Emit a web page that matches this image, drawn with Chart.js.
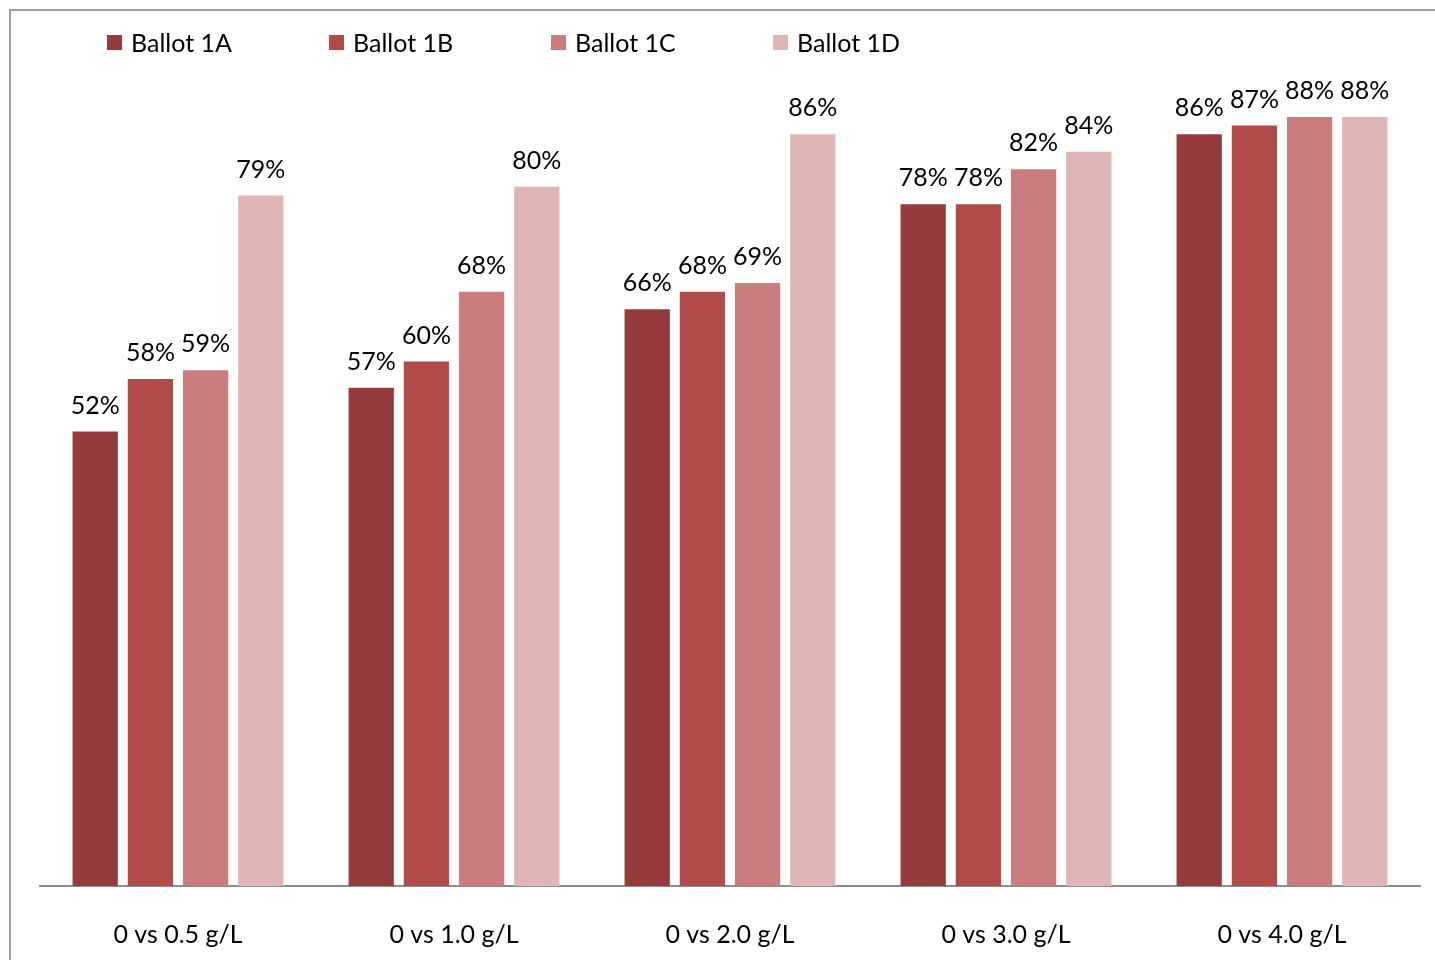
<!DOCTYPE html>
<html>
  <head>
    <title>Ballot comparison</title>
    <script src="https://cdn.jsdelivr.net/npm/chart.js@4/dist/chart.umd.min.js"></script>
    <style>
      html, body {
        margin: 0;
        padding: 0;
        background: #fff;
        overflow: hidden;
      }
      .wrap {
        position: relative;
        width: 1435px;
        height: 960px;
        overflow: hidden;
      }
      .frame {
        position: absolute;
        left: 9px;
        top: 9px;
        width: 1500px;
        height: 1000px;
        border: 2px solid #a3a3a3;
        box-sizing: border-box;
      }
      .legend {
        position: absolute;
        left: 107px;
        top: 27px;
        display: flex;
        font-family: Lato, sans-serif;
        font-size: 25px;
        color: #000;
      }
      .legend .item {
        display: flex;
        align-items: center;
        width: 222px;
      }
      .legend .box {
        width: 15px;
        height: 15px;
        margin-right: 9px;
      }
      canvas {
        position: absolute;
        left: 0;
        top: 0;
      }
    </style>
  </head>
  <body>
    <div class="wrap">
      <div class="frame"></div>
      <!-- canvas runs past the bottom edge; the wrapper clips it -->
      <canvas id="canvas" width="1435" height="992"></canvas>
      <div class="legend" id="legend"></div>
    </div>
    <script>
      var categories = ['0 vs 0.5 g/L', '0 vs 1.0 g/L', '0 vs 2.0 g/L', '0 vs 3.0 g/L', '0 vs 4.0 g/L'];
      var seriesNames = ['Ballot 1A', 'Ballot 1B', 'Ballot 1C', 'Ballot 1D'];
      var ballot1A = [52, 57, 66, 78, 86];
      var ballot1B = [58, 60, 68, 78, 87];
      var ballot1C = [59, 68, 69, 82, 88];
      var ballot1D = [79, 80, 86, 84, 88];
      var seriesColors = ['#953b3b', '#b24a49', '#c97d7c', '#dfb5b5'];

      var fontFamily = 'Lato, sans-serif';

      // writes the percentage above each bar
      var valueLabels = {
        id: 'valueLabels',
        afterDatasetsDraw: function(chart) {
          var ctx = chart.ctx;
          ctx.save();
          ctx.font = '25px ' + fontFamily;
          ctx.fillStyle = '#000';
          ctx.textAlign = 'center';
          ctx.textBaseline = 'alphabetic';
          chart.data.datasets.forEach(function(ds, i) {
            chart.getDatasetMeta(i).data.forEach(function(bar, j) {
              ctx.fillText(ds.data[j] + '%', bar.x, bar.y - 18);
            });
          });
          ctx.restore();
        }
      };

      var allSeries = [ballot1A, ballot1B, ballot1C, ballot1D];
      var datasets = allSeries.map(function(values, i) {
        return {
          label: seriesNames[i],
          data: values,
          backgroundColor: seriesColors[i],
          barPercentage: 0.82,
          categoryPercentage: 0.8
        };
      });

      var config = {
        type: 'bar',
        data: {
          labels: categories,
          datasets: datasets
        },
        options: {
          responsive: false,
          animation: false,
          layout: {
            padding: { left: 40, right: 15, top: 12, bottom: 8 }
          },
          plugins: {
            legend: { display: false },
            tooltip: { enabled: false }
          },
          scales: {
            x: {
              grid: { display: false, drawTicks: false },
              border: { display: true, color: '#8c8c8c', width: 2 },
              ticks: {
                color: '#000',
                padding: 34,
                font: { family: fontFamily, size: 25 }
              }
            },
            y: {
              display: false,
              min: 0,
              max: 100
            }
          }
        },
        plugins: [valueLabels]
      };

      var ctx = document.getElementById('canvas').getContext('2d');
      var chart = new Chart(ctx, config);

      // html legend sitting over the plot area
      var legendEl = document.getElementById('legend');
      chart.data.datasets.forEach(function(ds) {
        var item = document.createElement('div');
        item.className = 'item';
        var box = document.createElement('span');
        box.className = 'box';
        box.style.background = ds.backgroundColor;
        var text = document.createElement('span');
        text.textContent = ds.label;
        item.appendChild(box);
        item.appendChild(text);
        legendEl.appendChild(item);
      });
    </script>
  </body>
</html>
